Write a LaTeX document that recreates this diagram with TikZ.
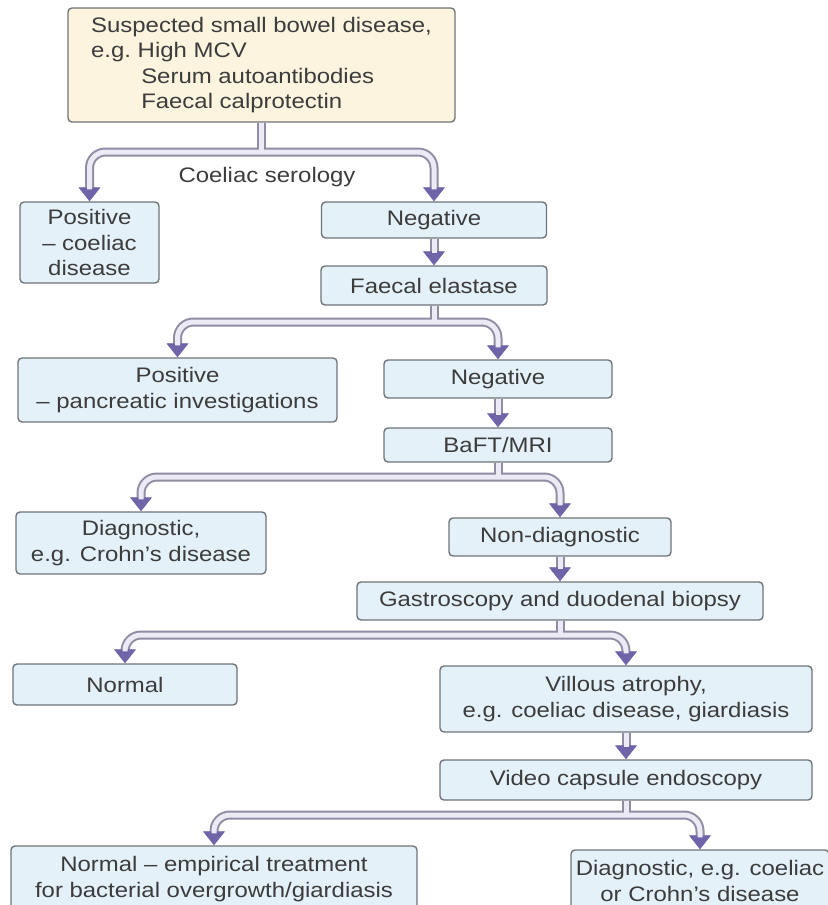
\documentclass[tikz,border=0pt]{standalone}
\usepackage{fontspec}
\setmainfont{Liberation Sans}[FakeStretch=1.14]
\usetikzlibrary{arrows.meta}
\definecolor{boxfill}{HTML}{E4F1F9}
\definecolor{topfill}{HTML}{FCF4DF}
\definecolor{boxline}{HTML}{6F7478}
\definecolor{txtcol}{HTML}{3C3C3C}
\definecolor{tubeline}{HTML}{8F8CA3}
\definecolor{tubefill}{HTML}{ECEAF4}
\definecolor{tipcol}{HTML}{6F64A8}
\tikzset{
  stepbox/.style={draw=boxline, fill=boxfill, rounded corners=2pt, line width=0.7pt,
    align=center, text=txtcol, inner sep=0pt, font=\fontsize{10.5}{12.75}\selectfont},
  topbox/.style={stepbox, fill=topfill, align=left},
  lbl/.style={text=txtcol, font=\fontsize{10.5}{12.75}\selectfont},
  tubehead/.tip={Triangle[width=11pt,length=7pt,line width=0.4pt,color=tipcol]},
  tubebase/.style={draw=tubeline, line width=4.5pt, rounded corners=8pt},
  stem/.style={tubebase, postaction={draw=tubefill, line width=2.5pt}},
  down/.style={tubebase, -tubehead, postaction={draw=tubefill, line width=2.5pt, -, shorten >=6pt}},
  fork/.style={tubebase, tubehead-tubehead,
    postaction={draw=tubefill, line width=2.5pt, -, shorten >=6pt, shorten <=6pt}},
  core/.style={draw=tubefill, line width=2.5pt}
}
\begin{document}
\begin{tikzpicture}[x=0.5pt,y=-0.5pt]
  \useasboundingbox (0,0) rectangle (827,905);

  \node[topbox, minimum width=193.5pt, minimum height=57pt] (susp) at (261.5,65)
    {Suspected small bowel disease,\\e.g.\ High MCV\\\hphantom{e.g.\ }\,Serum autoantibodies\\\hphantom{e.g.\ }\,Faecal calprotectin};
  \node[stepbox, minimum width=69.5pt, minimum height=40.5pt] (poscoel) at (89.5,242.5) {Positive\\– coeliac\\disease};
  \node[stepbox, minimum width=112.5pt, minimum height=18pt] (negcoel) at (434,220) {Negative};
  \node[stepbox, minimum width=113pt, minimum height=19.5pt] (faecal) at (434,285.5) {Faecal elastase};
  \node[stepbox, minimum width=159.5pt, minimum height=32pt] (pospanc) at (177.5,390) {Positive\\– pancreatic investigations};
  \node[stepbox, minimum width=114pt, minimum height=19pt] (negpanc) at (498,379) {Negative};
  \node[stepbox, minimum width=114pt, minimum height=17pt] (baft) at (498,445) {BaFT/MRI};
  \node[stepbox, minimum width=125pt, minimum height=31pt] (diagcrohn) at (141,543) {Diagnostic,\\e.g. Crohn's disease};
  \node[stepbox, minimum width=111pt, minimum height=19pt] (nondiag) at (560,537) {Non-diagnostic};
  \node[stepbox, minimum width=203pt, minimum height=19pt] (gastro) at (560,601) {Gastroscopy and duodenal biopsy};
  \node[stepbox, minimum width=112pt, minimum height=20.5pt] (normbiop) at (125,684.5) {Normal};
  \node[stepbox, minimum width=186pt, minimum height=33pt] (villous) at (626,699) {Villous atrophy,\\e.g. coeliac disease, giardiasis};
  \node[stepbox, minimum width=186pt, minimum height=20pt] (capsule) at (626,780) {Video capsule endoscopy};
  \node[stepbox, minimum width=203pt, minimum height=33pt] (normcaps) at (214,879) {Normal – empirical treatment\\for bacterial overgrowth/giardiasis};
  \node[stepbox, minimum width=129pt, minimum height=31pt] (diagcaps) at (700,881) {Diagnostic, e.g. coeliac\\or Crohn's disease};

  \node[lbl] (serology) at (267,177) {Coeliac serology};

  \coordinate (b1) at (261.5,152);
  \coordinate (b2) at (434,322);
  \coordinate (b3) at (498,477);
  \coordinate (b4) at (560,635);
  \coordinate (b5) at (626,815);

  \draw[stem] (susp.south) -- (b1);
  \draw[fork] (poscoel.north) |- (negcoel.north |- b1) -- (negcoel.north);
  \draw[core] (susp.south) -- (b1);
  \draw[down] (negcoel.south) -- (faecal.north);

  \draw[stem] (faecal.south) -- (b2);
  \draw[fork] (pospanc.north) |- (negpanc.north |- b2) -- (negpanc.north);
  \draw[core] (faecal.south) -- (b2);
  \draw[down] (negpanc.south) -- (baft.north);

  \draw[stem] (baft.south) -- (b3);
  \draw[fork] (diagcrohn.north) |- (nondiag.north |- b3) -- (nondiag.north);
  \draw[core] (baft.south) -- (b3);
  \draw[down] (nondiag.south) -- (gastro.north);

  \draw[stem] (gastro.south) -- (b4);
  \draw[fork] (normbiop.north) |- (villous.north |- b4) -- (villous.north);
  \draw[core] (gastro.south) -- (b4);
  \draw[down] (villous.south) -- (capsule.north);

  \draw[stem] (capsule.south) -- (b5);
  \draw[fork] (normcaps.north) |- (diagcaps.north |- b5) -- (diagcaps.north);
  \draw[core] (capsule.south) -- (b5);
\end{tikzpicture}
\end{document}
